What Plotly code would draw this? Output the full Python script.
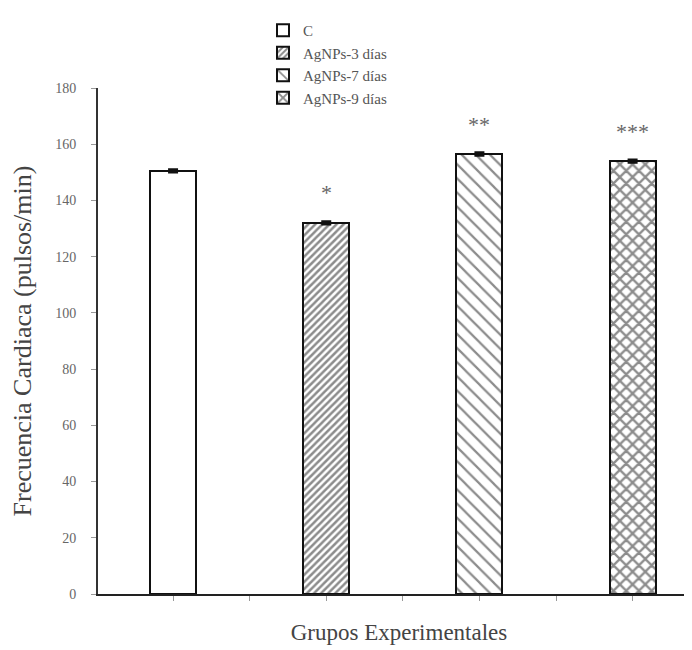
import plotly.graph_objects as go

categories = ["C", "AgNPs-3 días", "AgNPs-7 días", "AgNPs-9 días"]
values = [150.5, 132, 156.5, 154]
errors = [0.6, 0.6, 0.6, 0.6]
signif = ["", "*", "**", "***"]
patterns = ["", "/", "\\", "x"]
pattern_sizes = [8, 5, 10, 9]
pattern_solidity = [0.2, 0.5, 0.22, 0.45]
y_ticks = [0, 20, 40, 60, 80, 100, 120, 140, 160, 180]

FONT = "Liberation Serif"
fig = go.Figure()
positions = list(range(len(categories)))
for i, (cat, v, e) in enumerate(zip(categories, values, errors)):
    fig.add_trace(go.Bar(
        x=[positions[i]], y=[v], name=cat, width=0.30,
        marker=dict(color="white", line=dict(color="#111", width=2),
                    pattern=dict(shape=patterns[i], size=pattern_sizes[i],
                                 solidity=pattern_solidity[i], fgcolor="#1a1a1a",
                                 bgcolor="white")),
        error_y=dict(type="data", array=[e], color="#111", thickness=2, width=5),
    ))
    if signif[i]:
        fig.add_annotation(x=positions[i], y=v, text=signif[i], showarrow=False,
                           yshift=30, font=dict(family=FONT, size=22, color="#666"))

fig.update_layout(
    width=692, height=650,
    margin=dict(l=90, r=0, t=80, b=64, autoexpand=False),
    paper_bgcolor="white", plot_bgcolor="white",
    showlegend=True,
    legend=dict(x=(255 - 90) / 602, y=(586 - 6) / 506, xanchor="left", yanchor="top",
                font=dict(family=FONT, size=15, color="#555"),
                tracegroupgap=0, bgcolor="rgba(0,0,0,0)"),
    font=dict(family=FONT),
    bargap=0,
)
fig.update_xaxes(range=[-0.49, 3.44], showgrid=False, zeroline=False,
                 showline=True, linecolor="#222", linewidth=2,
                 tickmode="linear", tick0=0, dtick=0.5, ticks="outside",
                 ticklen=5, tickcolor="#999", showticklabels=False,
                 title=dict(text="Grupos Experimentales", standoff=24,
                            font=dict(family=FONT, size=23, color="#444")))
fig.update_yaxes(range=[0, 180], showgrid=False, zeroline=False,
                 showline=True, linecolor="#333", linewidth=2,
                 tickvals=y_ticks, ticks="outside", ticklen=5, tickcolor="#999",
                 ticklabelstandoff=12,
                 tickfont=dict(family=FONT, size=14, color="#666"),
                 title=dict(text="Frecuencia Cardiaca (pulsos/min)", standoff=16,
                            font=dict(family=FONT, size=26, color="#444")))
fig.write_html("out.html")
